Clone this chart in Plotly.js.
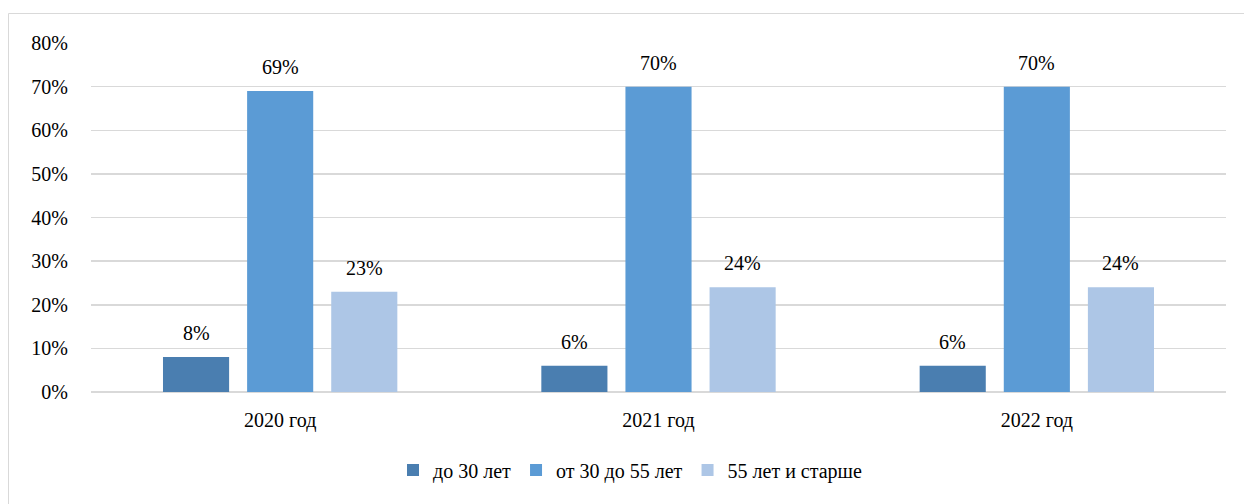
<!DOCTYPE html>
<html><head><meta charset="utf-8">
<script src="https://cdn.plot.ly/plotly-3.0.1.min.js"></script>
<style>body{margin:0;background:#fff}#c{width:1244px;height:504px}</style>
</head><body><div id="c"></div>
<script>
const categories = ['2020 год', '2021 год', '2022 год'];
const seriesNames = ['до 30 лет', 'от 30 до 55 лет', '55 лет и старше'];
const under30 = [8, 6, 6];
const from30to55 = [69, 70, 70];
const over55 = [23, 24, 24];
const seriesValues = [under30, from30to55, over55];
const colors = ['#4a7eb0', '#5b9bd5', '#adc6e6'];
const tickVals = [0, 10, 20, 30, 40, 50, 60, 70, 80];
const tickText = tickVals.map(v => v + '%');

const mkFont = () => ({family: 'Liberation Serif', size: 20, color: '#000000'});
const traces = seriesValues.map((vals, i) => ({
  type: 'bar', name: seriesNames[i], x: categories, y: vals,
  marker: {color: colors[i]}, hoverinfo: 'skip'
}));
const annotations = [];
const shifts = [-84, 0, 84];
seriesValues.forEach((vals, i) => vals.forEach((v, j) => {
  annotations.push({x: categories[j], y: v, xref: 'x', yref: 'y', text: v + '%',
    showarrow: false, xshift: shifts[i], yshift: 24, yanchor: 'middle', font: mkFont()});
}));
const L = 91, R = 1226, T = 43, B = 392;
const px = p => (p - L) / (R - L), py = p => (B - p) / (B - T);
const layout = {
  width: 1244, height: 504,
  margin: {l: L, r: 1244 - R, t: T, b: 504 - B},
  paper_bgcolor: '#fff', plot_bgcolor: '#fff',
  barmode: 'group', bargap: 0.333, bargroupgap: 0.214,
  font: mkFont(), showlegend: true,
  legend: {orientation: 'h', x: px(630), xanchor: 'center', y: py(470), yanchor: 'middle',
    font: mkFont(), itemwidth: 30, traceorder: 'normal'},
  xaxis: {type: 'category', showgrid: false, ticks: '', showline: false, zeroline: false,
    tickfont: mkFont(), ticklabelstandoff: 14},
  yaxis: {range: [0, 80], tickvals: tickVals, ticktext: tickText, showgrid: true,
    gridcolor: '#d9d9d9', gridwidth: 1.5, zeroline: true, zerolinecolor: '#d9d9d9', zerolinewidth: 1.5,
    showline: false, ticks: '', tickfont: mkFont(), ticklabelstandoff: 22},
  annotations: annotations,
  shapes: [{type: 'rect', xref: 'paper', yref: 'paper', x0: px(8.5), x1: px(1260), y0: py(520), y1: py(13.5),
    line: {color: '#d9d9d9', width: 1}, layer: 'below'}]
};
Plotly.newPlot('c', traces, layout, {staticPlot: true});
</script></body></html>
